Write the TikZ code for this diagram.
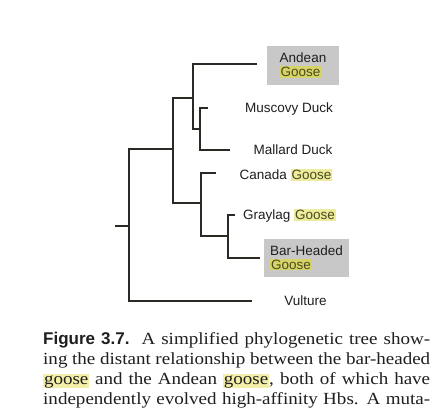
\documentclass[tikz,border=0pt]{standalone}
\usepackage{fontspec}
\setmainfont{Liberation Serif}[FakeStretch=1.12]
\newfontfamily\lsans{Liberation Sans}
\definecolor{hlbox}{HTML}{D6D466}
\definecolor{hlplain}{HTML}{EDEB9C}
\definecolor{hlcap}{HTML}{F3EFA8}
\definecolor{goosetxt}{HTML}{4A4A20}
\definecolor{boxgray}{HTML}{C8C8C8}
\definecolor{branch}{HTML}{2A2A24}
\definecolor{labtxt}{HTML}{1E1E1E}
\newcommand{\hlgoose}[2]{{\setlength{\fboxsep}{1pt}\colorbox{#1}{\textcolor{goosetxt}{#2}}}}
\newcommand{\caphl}[1]{{\setlength{\fboxsep}{0.8pt}\colorbox{hlcap}{#1}}}
\tikzset{
  branchline/.style={draw=branch, line width=1.1pt},
  leaflabel/.style={font=\lsans\fontsize{13.5}{14}\selectfont, text=labtxt, inner sep=0pt},
  graybox/.style={leaflabel, fill=boxgray, align=left},
}
\begin{document}
\begin{tikzpicture}[x=1pt,y=-1pt]
\useasboundingbox[fill=white] (0,0) rectangle (441,413);
% internal nodes
\coordinate (stub) at (115,226);
\coordinate (r) at (129,226);
\coordinate (n1) at (173,149);
\coordinate (n2) at (193,98);
\coordinate (n3) at (200,129);
\coordinate (n4) at (201,203);
\coordinate (n5) at (228,236);
% tips
\coordinate (atip) at (257,64);
\coordinate (mtip) at (208,108);
\coordinate (mdtip) at (230,150);
\coordinate (ctip) at (216,173);
\coordinate (gtip) at (235,215);
\coordinate (btip) at (260,258);
\coordinate (vtip) at (252,301);
% branches
\draw[branchline] (stub) -- (r);
\draw[branchline] (n1) -| (r) |- (vtip);
\draw[branchline] (n2) -| (n1) |- (n4);
\draw[branchline] (atip) -| (n2) |- (n3);
\draw[branchline] (mtip) -| (n3) |- (mdtip);
\draw[branchline] (ctip) -| (n4) |- (n5);
\draw[branchline] (gtip) -| (n5) |- (btip);
% labels
\node[graybox, minimum width=72pt, minimum height=39pt] (andean) at (303,65.5)
  {Andean\\\hlgoose{hlbox}{Goose}};
\node[leaflabel] (muscovy) at (289,109) {Muscovy Duck};
\node[leaflabel] (mallard) at (293,150) {Mallard Duck};
\node[leaflabel] (canada) at (286,175) {Canada \hlgoose{hlplain}{Goose}};
\node[leaflabel] (graylag) at (289.5,216) {Graylag \hlgoose{hlplain}{Goose}};
\node[graybox, minimum width=85pt, minimum height=38pt] (barheaded) at (306.5,258)
  {Bar-Headed\\\hlgoose{hlbox}{Goose}};
\node[leaflabel] (vulture) at (305.5,300.5) {Vulture};
% caption
\node[anchor=base west, text width=387pt, align=justify, inner sep=0pt, text=black!88,
      font=\fontsize{17}{20}\selectfont] (caption) at (43,344)
  {\parfillskip=0pt
   {\lsans\bfseries Figure 3.7.}\hspace{12pt}A simplified phylogenetic tree show-\linebreak
   ing the distant relationship between the bar-headed\linebreak
   \caphl{goose} and the Andean \caphl{goose}, both of which have\linebreak
   independently evolved high-affinity Hbs. A muta-\par};
\end{tikzpicture}
\end{document}
